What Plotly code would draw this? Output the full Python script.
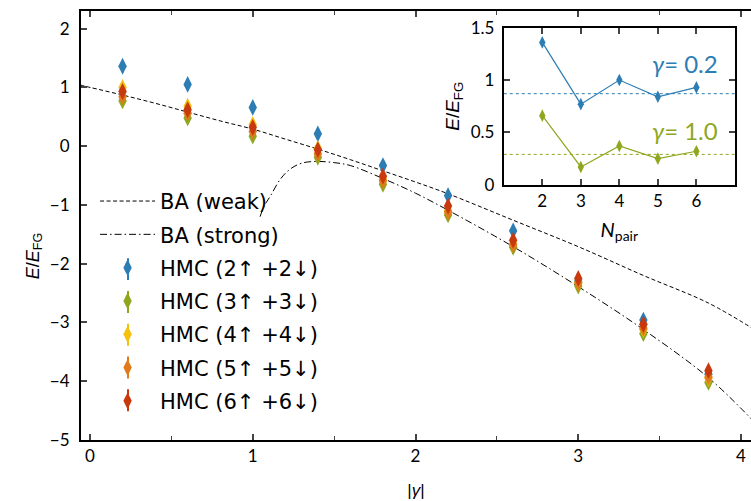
import plotly.graph_objects as go

# ---------------- data ----------------
gamma = [0.2, 0.6, 1.0, 1.4, 1.8, 2.2, 2.6, 3.0, 3.4, 3.8]
hmc_2 = [1.36, 1.05, 0.66, 0.21, -0.33, -0.84, -1.44, -2.30, -2.96, -3.88]
hmc_3 = [0.77, 0.48, 0.17, -0.19, -0.65, -1.17, -1.72, -2.38, -3.19, -4.02]
hmc_4 = [1.00, 0.68, 0.37, -0.04, -0.56, -1.10, -1.66, -2.32, -3.12, -3.95]
hmc_5 = [0.84, 0.56, 0.25, -0.13, -0.59, -1.12, -1.68, -2.33, -3.10, -3.93]
hmc_6 = [0.93, 0.62, 0.32, -0.06, -0.51, -1.02, -1.60, -2.25, -3.03, -3.82]
hmc_err = [0.02, 0.02, 0.02, 0.02, 0.03, 0.03, 0.03, 0.04, 0.04, 0.05]

ba_weak_x = [-0.06, 0.0, 0.2, 0.4, 0.6, 0.8, 1.0, 1.2, 1.4, 1.6, 1.8, 2.0, 2.2, 2.6, 3.0, 3.4, 3.8, 4.07]
ba_weak_y = [1.04, 1.0, 0.87, 0.73, 0.58, 0.43, 0.29, 0.12, -0.05, -0.23, -0.42, -0.61, -0.81, -1.26, -1.71, -2.2, -2.67, -3.1]
ba_strong_x = [1.045, 1.07, 1.11, 1.17, 1.23, 1.30, 1.39, 1.50, 1.60, 1.80, 2.0, 2.2, 2.6, 3.0, 3.4, 3.8, 4.07]
ba_strong_y = [-1.2, -1.02, -0.84, -0.56, -0.39, -0.29, -0.26, -0.28, -0.33, -0.55, -0.80, -1.09, -1.71, -2.39, -3.12, -3.94, -4.66]

n_pair = [2, 3, 4, 5, 6]
hmc_sets = [hmc_2, hmc_3, hmc_4, hmc_5, hmc_6]
inset_g02 = [h[0] for h in hmc_sets]   # gamma = 0.2
inset_g10 = [h[2] for h in hmc_sets]   # gamma = 1.0
ba_g02 = 0.87
ba_g10 = 0.29

labels = ["HMC (2↑ +2↓)", "HMC (3↑ +3↓)", "HMC (4↑ +4↓)", "HMC (5↑ +5↓)", "HMC (6↑ +6↓)"]
colors = ["#2C7DB4", "#8EA71F", "#F3C10E", "#E07A1A", "#C8390E"]

TICKFONT = dict(family="Lato", size=17, color="black")

fig = go.Figure()

fig.add_trace(go.Scatter(x=ba_weak_x, y=ba_weak_y, mode="lines", name="BA (weak)",
                         line=dict(color="black", width=1, dash="4px,2.5px", shape="spline"),
                         legendgroup="a"))
fig.add_trace(go.Scatter(x=ba_strong_x, y=ba_strong_y, mode="lines", name="BA (strong)",
                         line=dict(color="black", width=1, dash="7px,3px,1.5px,3px", shape="spline"),
                         legendgroup="b"))
for i, (h, lab, c) in enumerate(zip(hmc_sets, labels, colors)):
    fig.add_trace(go.Scatter(x=gamma, y=h, mode="markers", name=lab,
                             marker=dict(symbol="diamond-tall", size=12, color=c),
                             error_y=dict(type="data", array=hmc_err, color=c, thickness=1.5, width=0),
                             legendgroup="g%d" % i))

# inset
fig.add_trace(go.Scatter(x=[1, 7], y=[ba_g02, ba_g02], mode="lines", xaxis="x2", yaxis="y2",
                         line=dict(color=colors[0], width=1, dash="dot"), showlegend=False))
fig.add_trace(go.Scatter(x=[1, 7], y=[ba_g10, ba_g10], mode="lines", xaxis="x2", yaxis="y2",
                         line=dict(color=colors[1], width=1, dash="dot"), showlegend=False))
fig.add_trace(go.Scatter(x=n_pair, y=inset_g02, mode="lines+markers", xaxis="x2", yaxis="y2",
                         line=dict(color=colors[0], width=1.2),
                         marker=dict(symbol="diamond-tall", size=9, color=colors[0]), showlegend=False))
fig.add_trace(go.Scatter(x=n_pair, y=inset_g10, mode="lines+markers", xaxis="x2", yaxis="y2",
                         line=dict(color=colors[1], width=1.2),
                         marker=dict(symbol="diamond-tall", size=9, color=colors[1]), showlegend=False))

# legend error-bar stubs (decoration behind the legend diamonds)
PLOT_L, PLOT_W, PLOT_B, PLOT_H = 81, 670, 440, 432
stub_x = (128 - PLOT_L) / PLOT_W
legend_rows = [268, 301, 334, 367, 400]
shapes = []
for yy, c in zip(legend_rows, colors):
    shapes.append(dict(type="line", xref="paper", yref="paper",
                       x0=stub_x, x1=stub_x,
                       y0=(PLOT_B - (yy - 11)) / PLOT_H, y1=(PLOT_B - (yy + 11)) / PLOT_H,
                       line=dict(color=c, width=2)))

fig.update_layout(
    width=751, height=501,
    margin=dict(l=81, r=0, t=8, b=61),
    paper_bgcolor="white", plot_bgcolor="rgba(0,0,0,0)",
    font=dict(family="DejaVu Sans", color="black"),
    showlegend=True,
    legend=dict(x=0.021, y=0.604, xanchor="left", yanchor="top",
                font=dict(family="DejaVu Sans", size=21, color="black"),
                bgcolor="rgba(0,0,0,0)", tracegroupgap=3, itemwidth=55),
    shapes=shapes,
    xaxis=dict(range=[-0.0553, 4.0614], domain=[0, 1], showgrid=False, zeroline=False,
               tickvals=[0, 1, 2, 3, 4], ticks="inside", ticklen=6, tickwidth=1.5,
               minor=dict(tickvals=[0.5, 1.5, 2.5, 3.5], ticks="inside", ticklen=4, tickwidth=1.2),
               showline=True, linewidth=2, linecolor="black", mirror="ticks",
               tickfont=TICKFONT,
               title=dict(text="|<i>γ</i>|", font=dict(family="Liberation Sans", size=17), standoff=19)),
    yaxis=dict(range=[-5, 2.3], domain=[0, 1], showgrid=False, zeroline=False,
               tickvals=[-5, -4, -3, -2, -1, 0, 1, 2], ticks="inside", ticklen=6, tickwidth=1.5,
               showline=True, linewidth=2, linecolor="black",
               tickfont=TICKFONT, ticklabelstandoff=6),
    xaxis2=dict(domain=[0.631, 0.976], anchor="y2", range=[1, 7], showgrid=False, zeroline=False,
                tickvals=[2, 3, 4, 5, 6], ticks="inside", ticklen=6, tickwidth=1.5,
                showline=True, linewidth=2, linecolor="black", mirror="ticks",
                tickfont=TICKFONT,
                title=dict(text="<i>N</i><sub>pair</sub>", font=dict(family="Lato", size=20), standoff=13)),
    yaxis2=dict(domain=[0.595, 0.961], anchor="x2", range=[0, 1.5], showgrid=False, zeroline=False,
                tickvals=[0, 0.5, 1, 1.5], ticktext=["0", "0.5", "1", "1.5"],
                ticks="inside", ticklen=6, tickwidth=1.5,
                showline=True, linewidth=2, linecolor="black", mirror="ticks",
                tickfont=TICKFONT, ticklabelstandoff=4,
                title=dict(text="<i>E</i>/<i>E</i><sub>FG</sub>", font=dict(family="Liberation Sans", size=19), standoff=6)),
    annotations=[
        dict(x=6.6, y=1.16, xref="x2", yref="y2", xanchor="right", yanchor="middle", showarrow=False,
             text="<i>γ</i>= 0.2", font=dict(family="Lato", size=24, color=colors[0])),
        dict(x=6.6, y=0.52, xref="x2", yref="y2", xanchor="right", yanchor="middle", showarrow=False,
             text="<i>γ</i>= 1.0", font=dict(family="Lato", size=24, color=colors[1])),
        dict(x=(34 - PLOT_L) / PLOT_W, y=(PLOT_B - 255) / PLOT_H, xref="paper", yref="paper",
             xanchor="center", yanchor="middle", showarrow=False, textangle=-90,
             text="<i>E</i>/<i>E</i><sub>FG</sub>", font=dict(family="Liberation Sans", size=18)),
    ],
)

fig.write_html("out.html")
